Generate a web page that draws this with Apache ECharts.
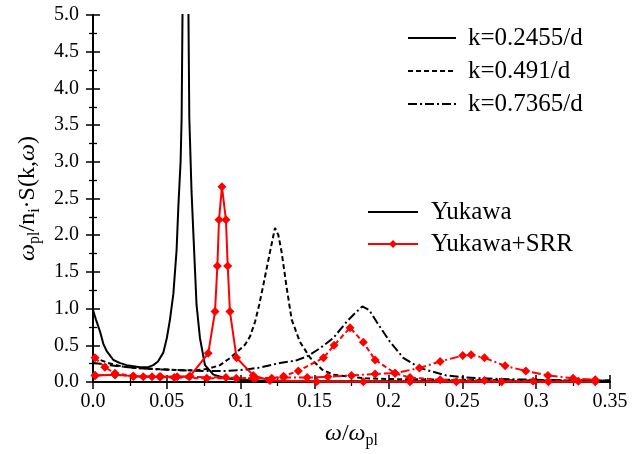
<!DOCTYPE html>
<html>
<head>
<meta charset="utf-8">
<script src="https://cdn.jsdelivr.net/npm/echarts@6/dist/echarts.min.js"></script>
<style>html,body{margin:0;padding:0;background:#fff}#c{width:632px;height:454px}</style>
</head>
<body>
<div id="c"></div>
<script>
// ---------- data ----------
const xTickLabels = ['0.0','0.05','0.1','0.15','0.2','0.25','0.3','0.35'];
const yTickLabels = ['0.0','0.5','1.0','1.5','2.0','2.5','3.0','3.5','4.0','4.5','5.0'];

const legendK = ['k=0.2455/d','k=0.491/d','k=0.7365/d'];
const legendModel = ['Yukawa','Yukawa+SRR'];

// Yukawa, k=0.2455/d
const yuk1X = [0,0.002,0.0047,0.007,0.0093,0.0138,0.018,0.0228,0.0318,0.037,0.0408,0.044,0.0476,0.05,0.0521,0.0544,0.0566,0.0578,0.0593,0.0600,0.0610,0.0626,0.0642,0.0652,0.0667,0.0678,0.0701,0.0724,0.0758,0.0815,0.09,0.0995,0.11,0.13,0.16,0.2,0.25,0.3,0.35];
const yuk1Y = [0.98,0.85,0.69,0.52,0.42,0.30,0.26,0.23,0.20,0.20,0.23,0.28,0.40,0.60,0.85,1.2,1.8,2.4,3.0,3.6,6.0,10.0,6.0,3.6,2.6,2.09,1.05,0.6,0.23,0.1,0.05,0.03,0.02,0.015,0.01,0.01,0.01,0.01,0.01];
// Yukawa, k=0.491/d
const yuk2X = [0,0.005,0.01,0.02,0.03,0.04,0.05,0.06,0.07,0.078,0.086,0.0916,0.097,0.103,0.1063,0.1097,0.1125,0.1153,0.1198,0.1232,0.1255,0.1277,0.131,0.1345,0.14,0.147,0.155,0.1625,0.175,0.185,0.2,0.25,0.3,0.35];
const yuk2Y = [0.33,0.30,0.26,0.21,0.19,0.18,0.17,0.16,0.16,0.18,0.23,0.31,0.40,0.51,0.62,0.82,1.05,1.32,1.77,2.10,2.0,1.77,1.3,0.85,0.55,0.33,0.17,0.1,0.07,0.05,0.04,0.03,0.02,0.02];
// Yukawa, k=0.7365/d
const yuk3X = [0,0.005,0.01,0.02,0.03,0.045,0.06,0.075,0.09,0.104,0.114,0.1266,0.137,0.145,0.1537,0.1627,0.1717,0.1765,0.1823,0.187,0.192,0.201,0.21,0.2214,0.23,0.239,0.2528,0.2755,0.3,0.325,0.35];
const yuk3Y = [0.26,0.25,0.23,0.21,0.19,0.17,0.16,0.15,0.15,0.17,0.20,0.26,0.29,0.35,0.46,0.60,0.82,0.92,1.03,0.98,0.82,0.55,0.33,0.19,0.14,0.09,0.06,0.04,0.03,0.02,0.02];

// Yukawa+SRR, k=0.2455/d
const srr1X = [0.0014,0.0149,0.0273,0.034,0.0458,0.057,0.0657,0.078,0.0826,0.0842,0.0853,0.0873,0.09,0.0912,0.0927,0.0972,0.1085,0.1198,0.1514,0.183,0.2146,0.246,0.2767,0.3083,0.34];
const srr1Y = [0.09,0.10,0.08,0.07,0.07,0.07,0.08,0.39,0.96,1.58,2.21,2.66,2.21,1.58,0.96,0.33,0.09,0.02,0.005,0.004,0.004,0.004,0.004,0.004,0.004];
// Yukawa+SRR, k=0.491/d
const srr2X = [0.0014,0.008,0.0149,0.0273,0.04,0.055,0.077,0.097,0.1085,0.121,0.129,0.139,0.156,0.1632,0.174,0.183,0.191,0.2045,0.2146,0.235,0.265,0.298,0.3286];
const srr2Y = [0.33,0.20,0.12,0.08,0.07,0.06,0.05,0.05,0.05,0.05,0.08,0.15,0.33,0.50,0.74,0.54,0.30,0.12,0.06,0.03,0.02,0.01,0.01];
// Yukawa+SRR, k=0.7365/d
const srr3X = [0.0014,0.0149,0.0273,0.045,0.065,0.09,0.11,0.129,0.145,0.159,0.175,0.191,0.2045,0.221,0.235,0.2503,0.256,0.265,0.279,0.293,0.308,0.325,0.34];
const srr3Y = [0.09,0.10,0.08,0.07,0.07,0.06,0.05,0.06,0.06,0.07,0.09,0.11,0.12,0.19,0.28,0.36,0.37,0.33,0.22,0.15,0.09,0.05,0.03];

// ---------- chart ----------
const pair = (xs, ys) => xs.map((x, i) => [x, ys[i]]);
const FONT = 'Liberation Serif';
const chart = echarts.init(document.getElementById('c'), null, {renderer: 'canvas'});

const richName = {
  w: {fontFamily: FONT, fontSize: 24, fontStyle: 'italic', color: '#000', lineHeight: 30},
  n: {fontFamily: FONT, fontSize: 24, color: '#000', lineHeight: 30},
  s: {fontFamily: FONT, fontSize: 16, color: '#000', lineHeight: 30, verticalAlign: 'bottom'}
};

function axisCommon() {
  return {
    axisLine: {show: true, lineStyle: {color: '#000', width: 1.8}},
    axisTick: {show: true, inside: true, length: 7, lineStyle: {color: '#000', width: 1.5}},
    minorTick: {show: true, splitNumber: 2, length: 4, lineStyle: {color: '#000', width: 1.3}},
    splitLine: {show: false},
    minorSplitLine: {show: false}
  };
}

const blackLine = (name, xs, ys, type) => ({
  name, type: 'line', data: pair(xs, ys), symbol: 'none', smooth: false,
  lineStyle: {color: '#000', width: 2, type},
  itemStyle: {color: '#000'}, z: 2, animation: false
});
const redLine = (name, xs, ys, type) => ({
  name, type: 'line', data: pair(xs, ys), symbol: 'diamond', symbolSize: 9, showSymbol: true,
  lineStyle: {color: '#ff0000', width: 2, type},
  itemStyle: {color: '#ff0000'}, z: 3, animation: false
});

const dashed = [5, 3];
const dashDot = [9, 3, 2, 3];
const hideSymbol = {opacity: 0};

chart.setOption({
  animation: false,
  backgroundColor: '#fff',
  grid: {left: 93, right: 22, top: 15, bottom: 70, containLabel: false},
  xAxis: [
    Object.assign(axisCommon(), {
      type: 'value', min: 0, max: 0.35, interval: 0.05, position: 'bottom',
      axisLabel: {color: '#000', fontFamily: FONT, fontSize: 20, margin: 10,
        formatter: (v, i) => xTickLabels[i]},
      name: '{w|ω}{n|/}{w|ω}{s|pl}', nameLocation: 'middle', nameGap: 37,
      nameTextStyle: {rich: richName}
    }),
    Object.assign(axisCommon(), {
      type: 'value', min: 0, max: 0.35, interval: 0.05, position: 'top',
      axisLabel: {show: false}
    })
  ],
  yAxis: [
    Object.assign(axisCommon(), {
      type: 'value', min: 0, max: 5, interval: 0.5, position: 'left',
      axisLabel: {color: '#000', fontFamily: FONT, fontSize: 20, margin: 14,
        formatter: (v, i) => yTickLabels[i]},
      name: '{w|ω}{s|pl}{n|/n}{s|i}{n|·S(k,}{w|ω}{n|)}', nameLocation: 'middle', nameGap: 50,
      nameRotate: 90,
      nameTextStyle: {rich: richName}
    }),
    Object.assign(axisCommon(), {
      type: 'value', min: 0, max: 5, interval: 0.5, position: 'right',
      axisLabel: {show: false}
    })
  ],
  legend: [
    {
      data: legendK.map(n => ({name: n, itemStyle: hideSymbol})),
      orient: 'vertical', left: 407, top: 25.5, padding: 0, itemWidth: 48, itemHeight: 14,
      itemGap: 8, selectedMode: false,
      textStyle: {fontFamily: FONT, fontSize: 25, color: '#000', lineHeight: 25, padding: [0, 0, 0, 7]}
    },
    {
      data: [{name: legendModel[0], itemStyle: hideSymbol}, {name: legendModel[1]}],
      orient: 'vertical', left: 367, top: 199.5, padding: 0, itemWidth: 50, itemHeight: 10,
      itemGap: 7, selectedMode: false,
      textStyle: {fontFamily: FONT, fontSize: 25, color: '#000', lineHeight: 25, padding: [0, 0, 0, 8]}
    }
  ],
  series: [
    blackLine(legendK[0], yuk1X, yuk1Y, 'solid'),
    blackLine(legendK[1], yuk2X, yuk2Y, dashed),
    blackLine(legendK[2], yuk3X, yuk3Y, dashDot),
    redLine('SRR ' + legendK[0], srr1X, srr1Y, 'solid'),
    redLine('SRR ' + legendK[1], srr2X, srr2Y, dashed),
    redLine('SRR ' + legendK[2], srr3X, srr3Y, dashDot),
    {name: legendModel[0], type: 'line', data: [], symbol: 'none',
     lineStyle: {color: '#000', width: 2}, itemStyle: {color: '#000'}},
    {name: legendModel[1], type: 'line', data: [], symbol: 'diamond', symbolSize: 8,
     lineStyle: {color: '#ff0000', width: 2}, itemStyle: {color: '#ff0000'}}
  ]
});
</script>
</body>
</html>
